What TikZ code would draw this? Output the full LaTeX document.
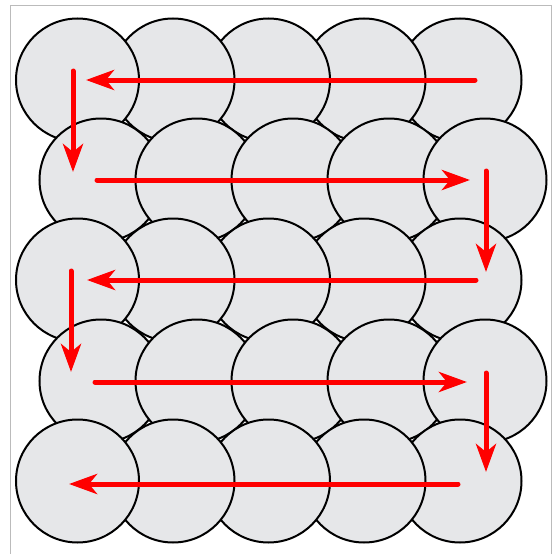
\documentclass[tikz,border=0pt]{standalone}
\usetikzlibrary{arrows.meta}
\definecolor{discfill}{HTML}{E6E7E9}
\definecolor{framegray}{HTML}{BBBBBB}
\tikzset{
  disc/.style={circle, draw=black, fill=discfill, line width=2pt, minimum size=123pt, inner sep=0pt},
  snake/.style={draw=red, line width=5pt, line cap=round, -{Stealth[length=28pt, width=20pt, inset=8pt]}},
}
\begin{document}
\begin{tikzpicture}[x=1pt,y=-1pt]
\useasboundingbox (0,0) rectangle (558,554);
\draw[framegray, line width=1pt] (10.5,560) -- (10.5,5.5) -- (551.5,5.5) -- (551.5,560);
% row 1 (right to left)
\foreach \i/\x in {5/460,4/364,3/268.5,2/173,1/77.5} \node[disc] (r1c\i) at (\x,80) {};
% row 2 (left to right)
\foreach \i/\x in {1/101,2/197,3/293,4/389,5/485} \node[disc] (r2c\i) at (\x,180) {};
% row 3 (right to left)
\foreach \i/\x in {5/460,4/364,3/268.5,2/173,1/77.5} \node[disc] (r3c\i) at (\x,280) {};
% row 4 (left to right)
\foreach \i/\x in {1/101,2/197,3/293,4/389,5/485} \node[disc] (r4c\i) at (\x,381) {};
% row 5 (right to left)
\foreach \i/\x in {5/460,4/364,3/268.5,2/173,1/77.5} \node[disc] (r5c\i) at (\x,481) {};
% arrow end points
\coordinate (a1s) at (475,80);  \coordinate (a1e) at (86,80);
\coordinate (v1s) at (73,71);   \coordinate (v1e) at (73,172);
\coordinate (a2s) at (97,180);  \coordinate (a2e) at (470,180);
\coordinate (v2s) at (486,171); \coordinate (v2e) at (486,272);
\coordinate (a3s) at (476,280); \coordinate (a3e) at (87,280);
\coordinate (v3s) at (71,271);  \coordinate (v3e) at (71,372);
\coordinate (a4s) at (95,382);  \coordinate (a4e) at (467,382);
\coordinate (v4s) at (486,373); \coordinate (v4e) at (486,472);
\coordinate (a5s) at (458,484); \coordinate (a5e) at (69,484);
\foreach \n in {a1,v1,a2,v2,a3,v3,a4,v4,a5} \draw[snake] (\n s) -- (\n e);
\end{tikzpicture}
\end{document}
